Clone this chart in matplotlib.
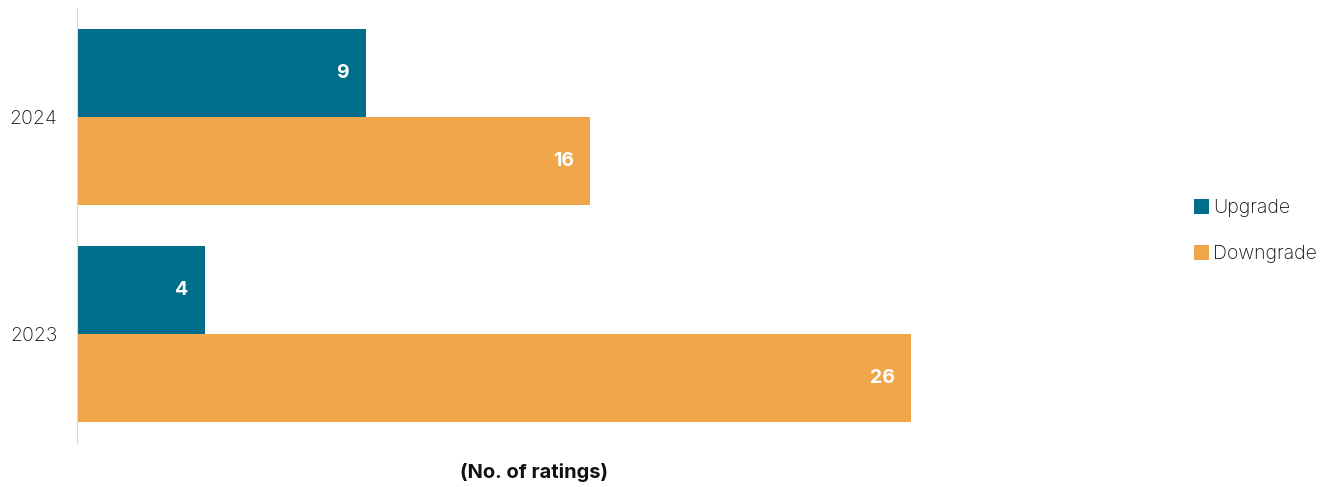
import matplotlib.pyplot as plt
import numpy as np

plt.rcParams['font.family'] = ['Inter', 'DejaVu Sans']

years = ['2023', '2024']
upgrade = [4, 9]
downgrade = [26, 16]
colors = {'Upgrade': '#006E8A', 'Downgrade': '#F0A64B'}

fig = plt.figure(figsize=(13.27, 4.87), dpi=100)
ax = fig.add_axes([77 / 1327, 44 / 487, 914 / 1327, 435 / 487])

y = np.arange(len(years))
h = 0.404
b1 = ax.barh(y + h / 2, upgrade, height=h, color=colors['Upgrade'], label='Upgrade')
b2 = ax.barh(y - h / 2, downgrade, height=h, color=colors['Downgrade'], label='Downgrade')

for bars in (b1, b2):
    for rect in bars:
        w = rect.get_width()
        ax.annotate(f'{w:g}', (w, rect.get_y() + rect.get_height() / 2),
                    xytext=(-12, 0), textcoords='offset points',
                    ha='right', va='center', color='white',
                    fontsize=14, fontweight='bold')

ax.set_xlim(0, 914 / 32.08)
ax.set_ylim(-0.5, 1.5)
ax.set_yticks(y, years)
ax.tick_params(axis='y', length=0, pad=14, labelsize=14, labelcolor='#111111')
for lbl in ax.get_yticklabels():
    lbl.set_fontweight('light')
ax.set_xticks([])
for s in ['top', 'right', 'bottom']:
    ax.spines[s].set_visible(False)
ax.spines['left'].set_color('#d9d9d9')

fig.text(534 / 1327, 1 - 472 / 487, '(No. of ratings)', ha='center', va='center',
         fontsize=14.5, fontweight='bold', color='#111111')

fig.legend(handles=[b1, b2], loc='center left', bbox_to_anchor=(1176 / 1327, 1 - 231 / 487),
           frameon=False, handlelength=0.8, handleheight=0.8,
           handletextpad=0.2, labelspacing=1.42, labelcolor='#111111',
           prop={'size': 14, 'weight': 'light'})

fig.savefig('out.png', dpi=100)
